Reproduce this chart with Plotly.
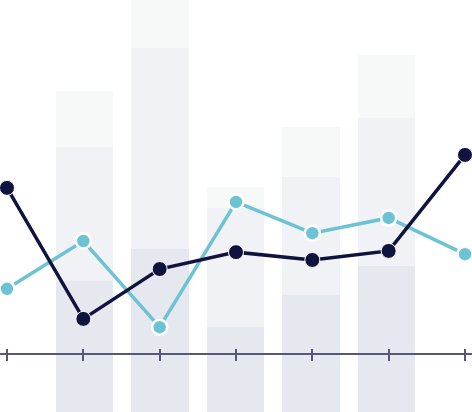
import plotly.graph_objects as go

# categories (7 positions along the x axis)
categories = [0, 1, 2, 3, 4, 5, 6]
bar_categories = [1, 2, 3, 4, 5]

# stacked background bars (three segments)
bar_bottom = [31.8, 39.6, 20.6, 28.4, 35.4]
bar_middle = [32.5, 48.8, 28.9, 28.6, 35.9]
bar_top = [13.6, 14.0, 5.1, 12.1, 15.3]

# line series
dark_series = [54.4, 22.6, 34.7, 38.8, 36.9, 39.1, 62.4]
teal_series = [29.9, 41.5, 20.6, 51.0, 43.4, 47.1, 38.3]

DARK = "#11133f"
TEAL = "#6cc3d3"
AXIS = "#56587a"

fig = go.Figure()
for vals, col in [(bar_bottom, "#e5e8ef"), (bar_middle, "#f1f2f6"), (bar_top, "#f7f8f8")]:
    fig.add_trace(go.Bar(x=bar_categories, y=vals, width=0.762, xaxis="x",
                         marker=dict(color=col, line=dict(width=0)),
                         hoverinfo="skip", showlegend=False))

fig.add_trace(go.Scatter(x=categories, y=teal_series, mode="lines+markers", xaxis="x2",
                         line=dict(color=TEAL, width=3.5),
                         marker=dict(size=15, color=TEAL, line=dict(color="white", width=2.5)),
                         showlegend=False, cliponaxis=False))
fig.add_trace(go.Scatter(x=categories, y=dark_series, mode="lines+markers", xaxis="x2",
                         line=dict(color=DARK, width=3.5),
                         marker=dict(size=15, color=DARK, line=dict(color="white", width=1)),
                         showlegend=False, cliponaxis=False))

# dummy trace on the overlay axis so its inward ticks are rendered
fig.add_trace(go.Scatter(x=[None], y=[None], xaxis="x3", showlegend=False, hoverinfo="skip"))

rng = [-0.0917, 6.0917]
bar_rng = [-0.1219, 6.1298]
pos = (412 - 354) / 412
fig.update_layout(
    width=472, height=412,
    margin=dict(l=0, r=0, t=0, b=0),
    paper_bgcolor="white", plot_bgcolor="white",
    barmode="stack", bargap=0,
    xaxis=dict(range=bar_rng, visible=False, showgrid=False, zeroline=False),
    xaxis2=dict(range=rng, overlaying="x", anchor="free", position=pos, showline=True, linecolor=AXIS,
                linewidth=1.5, ticks="outside", ticklen=6, tickwidth=1.5, tickcolor=AXIS,
                tickvals=categories, showticklabels=False, showgrid=False, zeroline=False, side="bottom"),
    xaxis3=dict(range=rng, overlaying="x", anchor="free", position=pos, showline=False,
                ticks="inside", ticklen=5, tickwidth=1.5, tickcolor=AXIS,
                tickvals=categories, showticklabels=False, showgrid=False, zeroline=False, side="bottom"),
    yaxis=dict(range=[0, 100], visible=False, fixedrange=True),
)

fig.write_html("out.html", config={"displayModeBar": False},
               post_script="document.body.style.margin='0';document.body.style.overflow='hidden';")
